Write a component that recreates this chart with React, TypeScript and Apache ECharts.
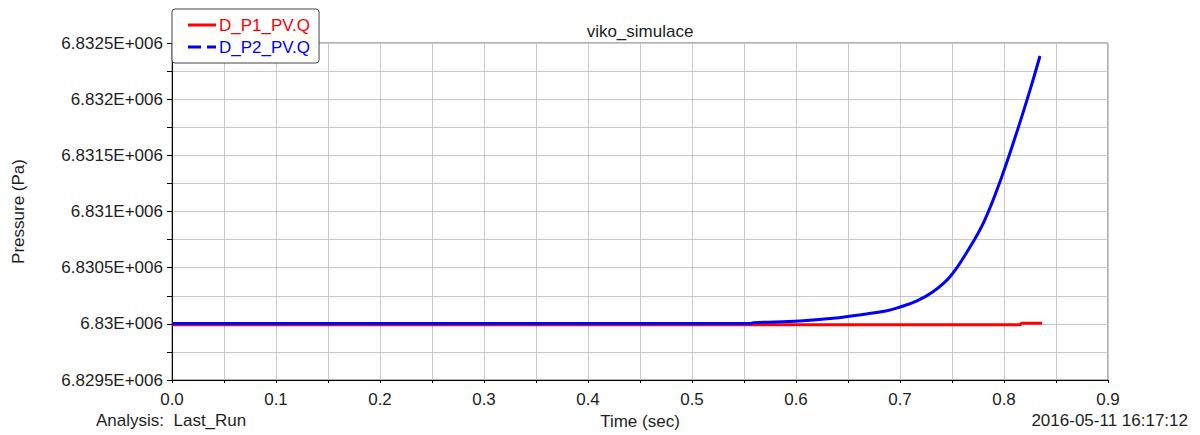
import React, { useEffect, useRef } from "react";
import * as echarts from "echarts";

// Time axis (s) and pressure samples (Pa) for both probes
const p1Time = [0, 0.816, 0.8165, 0.8365];
const p1Pressure = [6829992, 6829992, 6830006, 6830006];

const p2Time = [
  0, 0.556, 0.559, 0.6038, 0.6356, 0.668, 0.6875, 0.7, 0.7163, 0.7317, 0.7481,
  0.7644, 0.7808, 0.7971, 0.8135, 0.825, 0.8346,
];
const p2Pressure = [
  6830003, 6830003, 6830010, 6830025, 6830049, 6830088, 6830117, 6830150,
  6830205, 6830286, 6830420, 6830640, 6830910, 6831290, 6831740, 6832080,
  6832384,
];

const seriesNames = ["D_P1_PV.Q", "D_P2_PV.Q"];
const seriesColors = ["#ff0000", "#0000ff"];

// Legend glyphs: a solid bar and a dashed bar
const solidIcon = "path://M0,0h28v3h-28z";
const dashedIcon = "path://M0,0h13v3h-13z M19,0h9v3h-9z";

const titleText = "viko_simulace";
const xAxisName = "Time (sec)";
const yAxisName = "Pressure (Pa)";
const analysisText = "Analysis:  Last_Run";
const stampText = "2016-05-11 16:17:12";

const FONT = "Arial, 'Liberation Sans', sans-serif";
const TEXT_COLOR = "#1e1e1e";

function fmtPressure(v: number): string {
  return parseFloat((v / 1e6).toFixed(4)).toString() + "E+006";
}

export default function App() {
  const ref = useRef<HTMLDivElement>(null);

  useEffect(() => {
    if (!ref.current) return;
    const chart = echarts.init(ref.current, undefined, { renderer: "svg" });

    const gridLine = { show: true, lineStyle: { color: "#c8c8c8", width: 1 } };

    chart.setOption({
      animation: false,
      backgroundColor: "#ffffff",
      textStyle: { fontFamily: FONT },
      title: {
        text: titleText,
        left: 635,
        top: 18,
        textAlign: "center",
        textStyle: { fontSize: 17, fontWeight: "normal", color: TEXT_COLOR, fontFamily: FONT },
      },
      legend: {
        left: 172,
        top: 9,
        orient: "vertical",
        backgroundColor: "#ffffff",
        borderColor: "#444",
        borderWidth: 1,
        borderRadius: 3,
        padding: [7, 9, 7, 16],
        itemWidth: 28,
        itemHeight: 3,
        itemGap: 4,
        z: 10,
        data: [
          {
            name: seriesNames[0],
            icon: solidIcon,
            itemStyle: { color: seriesColors[0] },
            textStyle: { color: seriesColors[0] },
          },
          {
            name: seriesNames[1],
            icon: dashedIcon,
            itemStyle: { color: seriesColors[1] },
            textStyle: { color: seriesColors[1] },
          },
        ],
        textStyle: { fontSize: 17, fontFamily: FONT, padding: [0, 0, 0, -2], lineHeight: 18 },
      },
      grid: {
        left: 172,
        right: 92,
        top: 43,
        bottom: 55,
        show: true,
        borderColor: "#666",
        borderWidth: 1,
      },
      xAxis: {
        type: "value",
        min: 0,
        max: 0.9,
        interval: 0.1,
        name: xAxisName,
        nameLocation: "middle",
        nameGap: 33,
        nameTextStyle: { fontSize: 17, color: TEXT_COLOR },
        axisLine: { show: true, onZero: false, lineStyle: { color: "#000", width: 1 } },
        axisTick: { show: true, length: 3, lineStyle: { color: "#000" } },
        minorTick: { show: true, splitNumber: 2, length: 3, lineStyle: { color: "#000" } },
        splitLine: gridLine,
        minorSplitLine: gridLine,
        axisLabel: {
          fontSize: 17,
          color: TEXT_COLOR,
          margin: 11,
          formatter: (v: number) => v.toFixed(1),
        },
      },
      yAxis: {
        type: "value",
        min: 6829500,
        max: 6832500,
        interval: 500,
        name: yAxisName,
        nameLocation: "middle",
        nameGap: 145,
        nameTextStyle: { fontSize: 17, color: TEXT_COLOR },
        axisLine: { show: true, onZero: false, lineStyle: { color: "#000", width: 1 } },
        axisTick: { show: true, length: 5, lineStyle: { color: "#000" } },
        minorTick: { show: true, splitNumber: 2, length: 5, lineStyle: { color: "#000" } },
        splitLine: gridLine,
        minorSplitLine: gridLine,
        axisLabel: {
          fontSize: 17,
          color: TEXT_COLOR,
          margin: 9,
          formatter: fmtPressure,
        },
      },
      series: [
        {
          name: seriesNames[0],
          type: "line",
          data: p1Time.map((t, i) => [t, p1Pressure[i]]),
          showSymbol: false,
          symbol: "none",
          lineStyle: { color: seriesColors[0], width: 3 },
          itemStyle: { color: seriesColors[0] },
          z: 3,
        },
        {
          name: seriesNames[1],
          type: "line",
          data: p2Time.map((t, i) => [t, p2Pressure[i]]),
          showSymbol: false,
          symbol: "none",
          smooth: 0.4,
          lineStyle: { color: seriesColors[1], width: 3 },
          itemStyle: { color: seriesColors[1] },
          z: 4,
        },
      ],
      graphic: [
        {
          type: "text",
          left: 96,
          top: 412,
          style: { text: analysisText, fontSize: 17, fill: TEXT_COLOR, fontFamily: FONT },
        },
        {
          type: "text",
          right: 12,
          top: 412,
          style: { text: stampText, fontSize: 17, fill: TEXT_COLOR, fontFamily: FONT },
        },
      ],
    });

    return () => chart.dispose();
  }, []);

  return (
    <div
      ref={ref}
      style={{ position: "absolute", left: 0, top: 0, width: 1200, height: 435 }}
    />
  );
}
